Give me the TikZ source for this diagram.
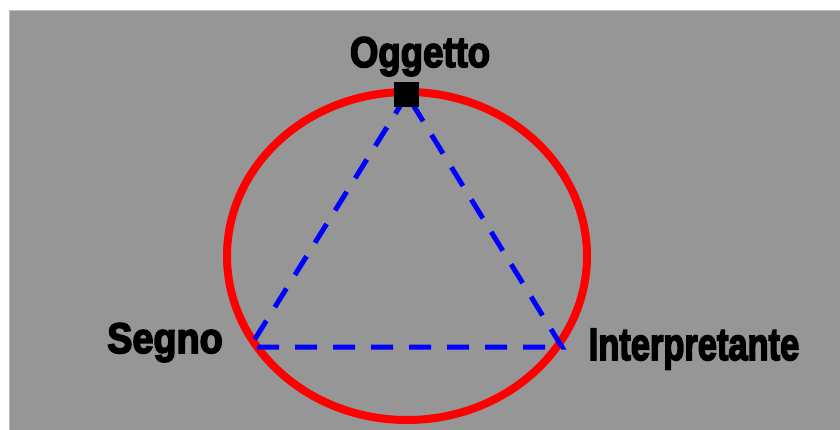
\documentclass[tikz,border=0pt]{standalone}
\usepackage{fontspec}
\setmainfont{Liberation Sans}
\newfontfamily\heavyfont[FakeBold=4]{Liberation Sans Bold}
\definecolor{bggray}{RGB}{150,150,150}
\definecolor{edgegray}{RGB}{190,190,190}
\begin{document}
\begin{tikzpicture}[x=1pt,y=-1pt,
  lbl/.style={anchor=base,inner sep=0pt,font=\heavyfont\fontsize{42}{42}\selectfont,text=black},
  link/.style={draw=blue,line width=5pt,dash pattern=on 22pt off 16pt},
  ring/.style={draw=red,line width=8pt}]
\useasboundingbox (0,0) rectangle (840,430);
\fill[white] (0,0) rectangle (840,430);
\fill[bggray] (9,10) rectangle (840,430);
\draw[edgegray,line width=1pt] (9.5,430) -- (9.5,10.5) -- (840,10.5);
\draw[ring] (407,256) ellipse [x radius=180, y radius=164];
\coordinate (o) at (407,95);
\coordinate (s) at (250,347);
\coordinate (i) at (562,347);
\draw[link] (o) -- (s) -- (i) -- cycle;
\node[fill=black,minimum size=25pt,inner sep=0pt] (obj) at (406,94.5) {};
\node[lbl] (ogg) at (420,67) {\scalebox{0.87}[1.02]{Oggetto}};
\node[lbl] (seg) at (165,353) {\scalebox{0.9}[1.02]{Segno}};
\node[lbl] (int) at (694,360) {\scalebox{0.82}[1.08]{Interpretante}};
\end{tikzpicture}
\end{document}
